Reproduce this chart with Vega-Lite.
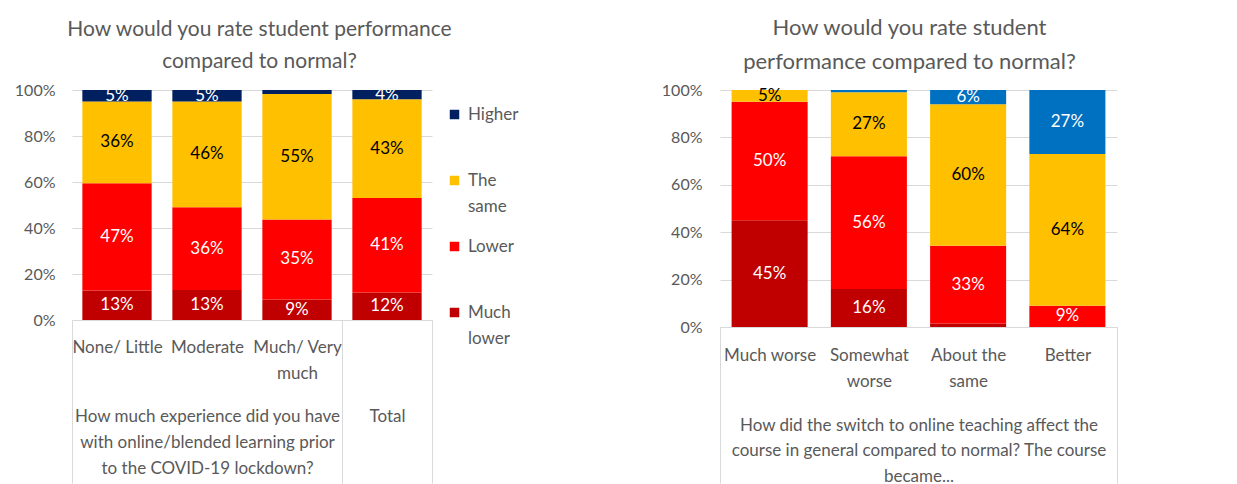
{
  "$schema": "https://vega.github.io/schema/vega-lite/v6.json",
  "padding": {"left": 0, "top": 17, "right": 0, "bottom": 0},
  "background": "white",
  "config": {
    "font": "Lato",
    "view": {"stroke": null},
    "axis": {"labelColor": "#595959", "titleColor": "#595959", "labelFont": "Lato", "titleFont": "Lato", "titleFontWeight": "normal"},
    "title": {"font": "Lato", "color": "#595959", "fontWeight": "normal", "fontSize": 21},
    "legend": {"labelFont": "Lato"}
  },
  "datasets": {
    "left": [
      {"group": "exp", "experience": "None/ Little", "rating": "Much lower", "level": 1, "share": 0.13},
      {"group": "exp", "experience": "None/ Little", "rating": "Lower", "level": 2, "share": 0.47},
      {"group": "exp", "experience": "None/ Little", "rating": "The same", "level": 3, "share": 0.36},
      {"group": "exp", "experience": "None/ Little", "rating": "Higher", "level": 4, "share": 0.05},
      {"group": "exp", "experience": "Moderate", "rating": "Much lower", "level": 1, "share": 0.13},
      {"group": "exp", "experience": "Moderate", "rating": "Lower", "level": 2, "share": 0.36},
      {"group": "exp", "experience": "Moderate", "rating": "The same", "level": 3, "share": 0.46},
      {"group": "exp", "experience": "Moderate", "rating": "Higher", "level": 4, "share": 0.05},
      {"group": "exp", "experience": "Much/ Very much", "rating": "Much lower", "level": 1, "share": 0.09},
      {"group": "exp", "experience": "Much/ Very much", "rating": "Lower", "level": 2, "share": 0.35},
      {"group": "exp", "experience": "Much/ Very much", "rating": "The same", "level": 3, "share": 0.55},
      {"group": "exp", "experience": "Much/ Very much", "rating": "Higher", "level": 4, "share": 0.017},
      {"group": "total", "experience": "Total", "rating": "Much lower", "level": 1, "share": 0.12},
      {"group": "total", "experience": "Total", "rating": "Lower", "level": 2, "share": 0.41},
      {"group": "total", "experience": "Total", "rating": "The same", "level": 3, "share": 0.43},
      {"group": "total", "experience": "Total", "rating": "Higher", "level": 4, "share": 0.04}
    ],
    "right": [
      {"change": "Much worse", "rating": "Much lower", "level": 1, "share": 0.45},
      {"change": "Much worse", "rating": "Lower", "level": 2, "share": 0.50},
      {"change": "Much worse", "rating": "The same", "level": 3, "share": 0.05},
      {"change": "Much worse", "rating": "Higher", "level": 4, "share": 0},
      {"change": "Somewhat worse", "rating": "Much lower", "level": 1, "share": 0.16},
      {"change": "Somewhat worse", "rating": "Lower", "level": 2, "share": 0.56},
      {"change": "Somewhat worse", "rating": "The same", "level": 3, "share": 0.27},
      {"change": "Somewhat worse", "rating": "Higher", "level": 4, "share": 0.01},
      {"change": "About the same", "rating": "Much lower", "level": 1, "share": 0.015},
      {"change": "About the same", "rating": "Lower", "level": 2, "share": 0.33},
      {"change": "About the same", "rating": "The same", "level": 3, "share": 0.60},
      {"change": "About the same", "rating": "Higher", "level": 4, "share": 0.06},
      {"change": "Better", "rating": "Much lower", "level": 1, "share": 0},
      {"change": "Better", "rating": "Lower", "level": 2, "share": 0.09},
      {"change": "Better", "rating": "The same", "level": 3, "share": 0.64},
      {"change": "Better", "rating": "Higher", "level": 4, "share": 0.27}
    ]
  },
  "spacing": 125,
  "resolve": {"scale": {"color": "independent"}, "legend": {"color": "independent"}},
  "hconcat": [
    {
      "title": {"text": ["How would you rate student performance", "compared to normal?"], "lineHeight": 32, "offset": 10, "anchor": "middle", "dx": -8},
      "spacing": 0,
      "bounds": "flush",
      "resolve": {"scale": {"x": "independent", "color": "shared"}},
      "hconcat": [
        {
          "width": 270,
          "height": 230,
          "data": {"name": "left"},
          "transform": [{"filter": "datum.group == 'exp'"}],
          "encoding": {
            "x": {
              "field": "experience", "type": "nominal",
              "sort": ["None/ Little", "Moderate", "Much/ Very much"],
              "scale": {"paddingInner": 0, "paddingOuter": 0},
              "axis": {
                "title": ["How much experience did you have", "with online/blended learning prior", "to the COVID-19 lockdown?"],
                "titleFontSize": 17, "titleLineHeight": 26, "titleBaseline": "top", "titleY": 88,
                "labelAngle": 0, "labelFontSize": 17, "labelLineHeight": 26, "labelBaseline": "top", "labelPadding": -144,
                "labelExpr": "datum.label == 'Much/ Very much' ? ['Much/ Very', 'much'] : datum.label",
                "tickBand": "extent", "tickSize": 163, "tickColor": "#d9d9d9",
                "tickOpacity": {"condition": {"test": "datum.value == 'None/ Little' || datum.value == 'Moderate'", "value": 0}, "value": 1},
                "domainColor": "#d9d9d9"
              }
            }
          },
          "layer": [
            {
              "mark": {"type": "bar", "width": {"band": 0.77}},
              "encoding": {
                "y": {"field": "share", "type": "quantitative", "stack": "normalize", "scale": {"domain": [0, 1]},
                  "axis": {"values": [0, 0.2, 0.4, 0.6, 0.8, 1], "format": ".0%", "title": null, "domain": false, "ticks": false, "labelFontSize": 16, "labelPadding": 17, "gridColor": "#d9d9d9", "minExtent": 72, "maxExtent": 72}},
                "color": {"field": "rating", "type": "nominal",
                  "scale": {"domain": ["Higher", "The same", "Lower", "Much lower"], "range": ["#002060", "#FFC000", "#FF0000", "#C00000"]},
                  "legend": {"title": null, "offset": -3, "padding": 16, "symbolType": "square", "symbolSize": 90, "symbolStrokeWidth": 0,
                    "labelFontSize": 17, "labelColor": "#595959", "labelOffset": 5, "rowPadding": 22, "gridAlign": "all",
                    "labelExpr": "datum.label == 'The same' ? ['The', 'same'] : datum.label == 'Much lower' ? ['Much', 'lower'] : datum.label",
                    "encode": {"labels": {"update": {"lineHeight": {"value": 26}}}}}},
                "order": {"field": "level", "type": "quantitative"}
              }
            },
            {
              "mark": {"type": "text", "fontSize": 17},
              "encoding": {
                "y": {"field": "share", "type": "quantitative", "stack": "normalize", "bandPosition": 0.5},
                "detail": {"field": "rating"},
                "text": {"field": "share", "type": "quantitative", "format": ".0%"},
                "color": {"condition": {"test": "datum.rating == 'The same'", "value": "#000000"}, "value": "#ffffff"},
                "opacity": {"condition": {"test": "datum.share < 0.03", "value": 0}, "value": 1},
                "order": {"field": "level", "type": "quantitative"}
              }
            }
          ]
        },
        {
          "width": 90,
          "height": 230,
          "data": {"name": "left"},
          "transform": [{"filter": "datum.group == 'total'"}],
          "encoding": {
            "x": {
              "field": "experience", "type": "nominal",
              "scale": {"paddingInner": 0, "paddingOuter": 0},
              "axis": {
                "title": "Total",
                "titleFontSize": 17, "titleLineHeight": 26, "titleBaseline": "top", "titleY": 88,
                "labels": false,
                "tickBand": "extent", "tickSize": 163, "tickColor": "#d9d9d9",
                "domainColor": "#d9d9d9"
              }
            }
          },
          "layer": [
            {
              "mark": {"type": "bar", "width": {"band": 0.77}},
              "encoding": {
                "y": {"field": "share", "type": "quantitative", "stack": "normalize", "scale": {"domain": [0, 1]},
                  "axis": {"values": [0, 0.2, 0.4, 0.6, 0.8, 1], "labels": false, "title": null, "domain": false, "ticks": false, "gridColor": "#d9d9d9", "minExtent": 0, "maxExtent": 0}},
                "color": {"field": "rating", "type": "nominal"},
                "order": {"field": "level", "type": "quantitative"}
              }
            },
            {
              "mark": {"type": "text", "fontSize": 17},
              "encoding": {
                "y": {"field": "share", "type": "quantitative", "stack": "normalize", "bandPosition": 0.5},
                "detail": {"field": "rating"},
                "text": {"field": "share", "type": "quantitative", "format": ".0%"},
                "color": {"condition": {"test": "datum.rating == 'The same'", "value": "#000000"}, "value": "#ffffff"},
                "opacity": {"condition": {"test": "datum.share < 0.03", "value": 0}, "value": 1},
                "order": {"field": "level", "type": "quantitative"}
              }
            }
          ]
        }
      ]
    },
    {
      "title": {"text": ["How would you rate student", "performance compared to normal?"], "fontSize": 22, "lineHeight": 34, "offset": 7, "anchor": "middle", "dx": -9},
      "width": 397,
      "height": 237,
      "data": {"name": "right"},
      "encoding": {
        "x": {
          "field": "change", "type": "nominal",
          "sort": ["Much worse", "Somewhat worse", "About the same", "Better"],
          "scale": {"paddingInner": 0, "paddingOuter": 0},
          "axis": {
            "title": ["How did the switch to online teaching affect the", "course in general compared to normal? The course", "became..."],
            "titleFontSize": 17, "titleLineHeight": 25.5, "titleBaseline": "top", "titleY": 90,
            "labelAngle": 0, "labelFontSize": 17, "labelLineHeight": 26, "labelBaseline": "top", "labelPadding": -136,
            "labelExpr": "datum.label == 'Somewhat worse' ? ['Somewhat', 'worse'] : datum.label == 'About the same' ? ['About the', 'same'] : datum.label",
            "tickBand": "extent", "tickSize": 156, "tickColor": "#d9d9d9",
            "tickOpacity": {"condition": {"test": "datum.value == 'Much worse' || datum.value == 'Somewhat worse' || datum.value == 'About the same'", "value": 0}, "value": 1},
            "domainColor": "#d9d9d9"
          }
        }
      },
      "layer": [
        {
          "mark": {"type": "bar", "width": {"band": 0.766}},
          "encoding": {
            "y": {"field": "share", "type": "quantitative", "stack": "normalize", "scale": {"domain": [0, 1]},
              "axis": {"values": [0, 0.2, 0.4, 0.6, 0.8, 1], "format": ".0%", "title": null, "domain": false, "ticks": false, "labelFontSize": 16, "labelPadding": 18, "gridColor": "#d9d9d9", "minExtent": 60, "maxExtent": 60}},
            "color": {"field": "rating", "type": "nominal",
              "scale": {"domain": ["Higher", "The same", "Lower", "Much lower"], "range": ["#0070C0", "#FFC000", "#FF0000", "#C00000"]},
              "legend": null},
            "order": {"field": "level", "type": "quantitative"}
          }
        },
        {
          "mark": {"type": "text", "fontSize": 17},
          "encoding": {
            "y": {"field": "share", "type": "quantitative", "stack": "normalize", "bandPosition": 0.5},
            "detail": {"field": "rating"},
            "text": {"field": "share", "type": "quantitative", "format": ".0%"},
            "color": {"condition": {"test": "datum.rating == 'The same'", "value": "#000000"}, "value": "#ffffff"},
            "opacity": {"condition": {"test": "datum.share < 0.03", "value": 0}, "value": 1},
            "order": {"field": "level", "type": "quantitative"}
          }
        }
      ]
    }
  ]
}
